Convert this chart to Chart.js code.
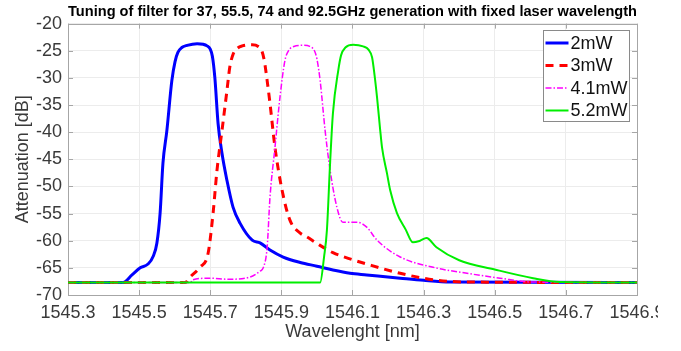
<!DOCTYPE html>
<html lang="en">
  <head>
    <meta charset="UTF-8" />
    <meta name="viewport" content="width=device-width, initial-scale=1.0" />
    <title>Tuning of filter</title>
    <script src="https://cdn.jsdelivr.net/npm/chart.js"></script>
    <style>
      body { margin: 0; background: #fff; }
    </style>
  </head>
  <body>
    <canvas id="myChart" width="658" height="351"></canvas>
    <script>
      // data
      var seriesLabels = ["2mW", "3mW", "4.1mW", "5.2mW"]
      var xTickValues = [1545.3, 1545.5, 1545.7, 1545.9, 1546.1, 1546.3, 1546.5, 1546.7, 1546.9]
      var xTickLabels = ["1545.3", "1545.5", "1545.7", "1545.9", "1546.1", "1546.3", "1546.5", "1546.7", "1546.9"]
      var yTickValues = [-70, -65, -60, -55, -50, -45, -40, -35, -30, -25, -20]
      var yTickLabels = ["-70", "-65", "-60", "-55", "-50", "-45", "-40", "-35", "-30", "-25", "-20"]

      var wl2mW = [1545.3, 1545.455, 1545.48, 1545.503, 1545.525, 1545.54, 1545.55, 1545.559, 1545.567, 1545.578, 1545.592, 1545.601, 1545.609, 1545.62, 1545.635, 1545.663, 1545.68, 1545.691, 1545.7, 1545.706, 1545.713, 1545.722, 1545.733, 1545.747, 1545.764, 1545.784, 1545.818, 1545.84, 1545.868, 1545.905, 1545.953, 1546.0, 1546.045, 1546.093, 1546.14, 1546.234, 1546.3, 1546.375, 1546.9]
      var att2mW = [-67.7, -67.7, -66.3, -65.0, -64.3, -62.8, -60.4, -54.9, -45.7, -39.7, -30.5, -27.0, -25.3, -24.4, -24.0, -23.7, -23.8, -24.1, -24.7, -26.0, -30.0, -38.4, -43.9, -48.9, -53.8, -56.8, -59.9, -60.4, -61.7, -63.0, -64.0, -64.7, -65.4, -66.0, -66.3, -66.9, -67.3, -67.6, -67.7]

      var wl3mW = [1545.3, 1545.63, 1545.64, 1545.671, 1545.694, 1545.708, 1545.719, 1545.733, 1545.747, 1545.755, 1545.765, 1545.775, 1545.79, 1545.818, 1545.835, 1545.845, 1545.852, 1545.86, 1545.868, 1545.882, 1545.902, 1545.924, 1545.953, 1545.972, 1546.0, 1546.045, 1546.1, 1546.14, 1546.234, 1546.327, 1546.42, 1546.9]
      var att3mW = [-67.7, -67.7, -66.9, -64.9, -62.3, -54.9, -47.0, -39.7, -32.3, -28.0, -25.5, -24.6, -24.1, -23.9, -24.2, -25.0, -26.8, -30.5, -34.7, -42.8, -50.7, -56.2, -58.6, -59.3, -60.5, -62.2, -63.5, -64.3, -66.0, -67.2, -67.6, -67.7]

      var wl41mW = [1545.3, 1545.645, 1545.65, 1545.7, 1545.75, 1545.812, 1545.84, 1545.849, 1545.86, 1545.868, 1545.882, 1545.896, 1545.91, 1545.92, 1545.935, 1545.961, 1545.98, 1545.993, 1546.0, 1546.009, 1546.023, 1546.037, 1546.056, 1546.073, 1546.113, 1546.14, 1546.169, 1546.234, 1546.327, 1546.422, 1546.515, 1546.6, 1546.9]
      var att41mW = [-67.7, -67.7, -67.2, -66.9, -67.1, -66.7, -65.6, -65.0, -61.2, -52.0, -42.8, -33.6, -26.8, -25.0, -24.2, -24.0, -24.2, -25.0, -26.5, -30.5, -39.7, -47.0, -53.8, -56.6, -56.6, -57.5, -59.9, -63.0, -64.9, -66.0, -66.9, -67.6, -67.7]

      var wl52mW = [1545.3, 1546.009, 1546.02, 1546.028, 1546.037, 1546.045, 1546.06, 1546.068, 1546.08, 1546.102, 1546.13, 1546.145, 1546.155, 1546.162, 1546.169, 1546.178, 1546.183, 1546.197, 1546.206, 1546.225, 1546.25, 1546.27, 1546.29, 1546.308, 1546.336, 1546.4, 1546.5, 1546.608, 1546.684, 1546.9]
      var att52mW = [-67.7, -67.7, -63.0, -58.1, -45.7, -36.5, -28.6, -25.8, -24.4, -23.9, -24.2, -24.8, -26.2, -29.5, -33.6, -39.7, -42.8, -47.6, -50.7, -54.9, -58.0, -60.3, -60.0, -59.5, -61.2, -63.6, -65.3, -66.9, -67.6, -67.7]

      function toPoints(xs, ys) {
        return xs.map(function (x, i) {
          return { x: x, y: ys[i] }
        })
      }

      // box round the axes with inward ticks, and a legend inside the plot
      var framePlugin = {
        id: "frame",
        beforeDatasetsDraw: function (chart) {
          var ctx = chart.ctx
          var a = chart.chartArea
          var xs = chart.scales.x
          var ys = chart.scales.y
          ctx.save()
          ctx.strokeStyle = "#a6a6a6"
          ctx.lineWidth = 1
          ctx.strokeRect(Math.round(a.left) + 0.5, Math.round(a.top) + 0.5, Math.round(a.right - a.left), Math.round(a.bottom - a.top))
          ctx.beginPath()
          xs.ticks.forEach(function (t) {
            var px = Math.round(xs.getPixelForValue(t.value)) + 0.5
            ctx.moveTo(px, a.bottom)
            ctx.lineTo(px, a.bottom - 5)
            ctx.moveTo(px, a.top)
            ctx.lineTo(px, a.top + 5)
          })
          ys.ticks.forEach(function (t) {
            var py = Math.round(ys.getPixelForValue(t.value)) + 0.5
            ctx.moveTo(a.left, py)
            ctx.lineTo(a.left + 5, py)
            ctx.moveTo(a.right, py)
            ctx.lineTo(a.right - 5, py)
          })
          ctx.stroke()
          ctx.restore()
        },
        afterDatasetsDraw: function (chart) {
          var ctx = chart.ctx
          var a = chart.chartArea
          var w = 86
          var h = 91
          var left = Math.round(a.right - 8 - w) + 0.5
          var top = Math.round(a.top + 6) + 0.5
          ctx.save()
          ctx.fillStyle = "#fff"
          ctx.fillRect(left, top, w, h)
          ctx.strokeStyle = "#8a8a8a"
          ctx.lineWidth = 1
          ctx.strokeRect(left, top, w, h)
          ctx.font = "18px 'Liberation Sans', Arial, sans-serif"
          ctx.textBaseline = "middle"
          chart.data.datasets.forEach(function (ds, i) {
            var y = top + 12.5 + i * 22.5
            ctx.strokeStyle = ds.borderColor
            ctx.lineWidth = ds.borderWidth
            ctx.setLineDash(ds.borderDash || [])
            ctx.beginPath()
            ctx.moveTo(left + 2, y)
            ctx.lineTo(left + 25, y)
            ctx.stroke()
            ctx.setLineDash([])
            ctx.fillStyle = "#111"
            ctx.fillText(ds.label, left + 27, y + 1)
          })
          ctx.restore()
        },
      }

      document.addEventListener("DOMContentLoaded", function () {
        var ctx = document.getElementById("myChart").getContext("2d")

        var data = {
          datasets: [
            {
              label: seriesLabels[0],
              data: toPoints(wl2mW, att2mW),
              borderColor: "#0000ff",
              borderWidth: 3,
              order: 4,
            },
            {
              label: seriesLabels[1],
              data: toPoints(wl3mW, att3mW),
              borderColor: "#ff0000",
              borderWidth: 3,
              borderDash: [8, 6],
              order: 3,
            },
            {
              label: seriesLabels[2],
              data: toPoints(wl41mW, att41mW),
              borderColor: "#ff00ff",
              borderWidth: 1.5,
              borderDash: [6, 2, 1.5, 2],
              order: 2,
            },
            {
              label: seriesLabels[3],
              data: toPoints(wl52mW, att52mW),
              borderColor: "#00ee00",
              borderWidth: 2,
              order: 1,
            },
          ],
        }

        var tickFont = { family: "'Liberation Sans', Arial, sans-serif", size: 18 }

        var myChart = new Chart(ctx, {
          type: "line",
          data: data,
          options: {
            responsive: false,
            animation: false,
            layout: { padding: { left: 0, right: 21, top: 0, bottom: 0 } },
            elements: {
              point: { radius: 0 },
              line: { cubicInterpolationMode: "monotone", fill: false },
            },
            scales: {
              x: {
                type: "linear",
                min: 1545.3,
                max: 1546.9,
                afterBuildTicks: function (axis) {
                  axis.ticks = xTickValues.map(function (v) {
                    return { value: v }
                  })
                },
                afterFit: function (scale) {
                  scale.height = 56
                  scale.paddingLeft = 0
                  scale.paddingRight = 0
                },
                ticks: {
                  autoSkip: false,
                  maxRotation: 0,
                  padding: 7,
                  color: "#3a3a3a",
                  font: tickFont,
                  callback: function (value) {
                    return xTickLabels[xTickValues.indexOf(value)]
                  },
                },
                grid: { color: "#ececec", drawTicks: false },
                border: { display: false },
                title: {
                  display: true,
                  text: "Wavelenght [nm]",
                  color: "#3a3a3a",
                  font: tickFont,
                  padding: { top: 0, bottom: 8 },
                },
              },
              y: {
                min: -70,
                max: -20,
                afterBuildTicks: function (axis) {
                  axis.ticks = yTickValues.map(function (v) {
                    return { value: v }
                  })
                },
                afterFit: function (scale) {
                  scale.width = 68
                  scale.paddingTop = 0
                  scale.paddingBottom = 0
                },
                ticks: {
                  padding: 6,
                  color: "#3a3a3a",
                  font: tickFont,
                  callback: function (value) {
                    return yTickLabels[yTickValues.indexOf(value)]
                  },
                },
                grid: { color: "#ececec", drawTicks: false },
                border: { display: false },
                title: {
                  display: true,
                  text: "Attenuation [dB]",
                  color: "#3a3a3a",
                  font: tickFont,
                  padding: { top: 12, bottom: 0 },
                },
              },
            },
            plugins: {
              legend: { display: false },
              tooltip: { enabled: false },
              title: {
                display: true,
                fullSize: false,
                text: "Tuning of filter for 37, 55.5, 74 and 92.5GHz generation with fixed laser wavelength",
                color: "#000",
                font: { family: "'Liberation Sans', Arial, sans-serif", size: 14.7, weight: "bold" },
                padding: { top: 3, bottom: 3 },
              },
            },
          },
          plugins: [framePlugin],
        })
      })
    </script>
  </body>
</html>
